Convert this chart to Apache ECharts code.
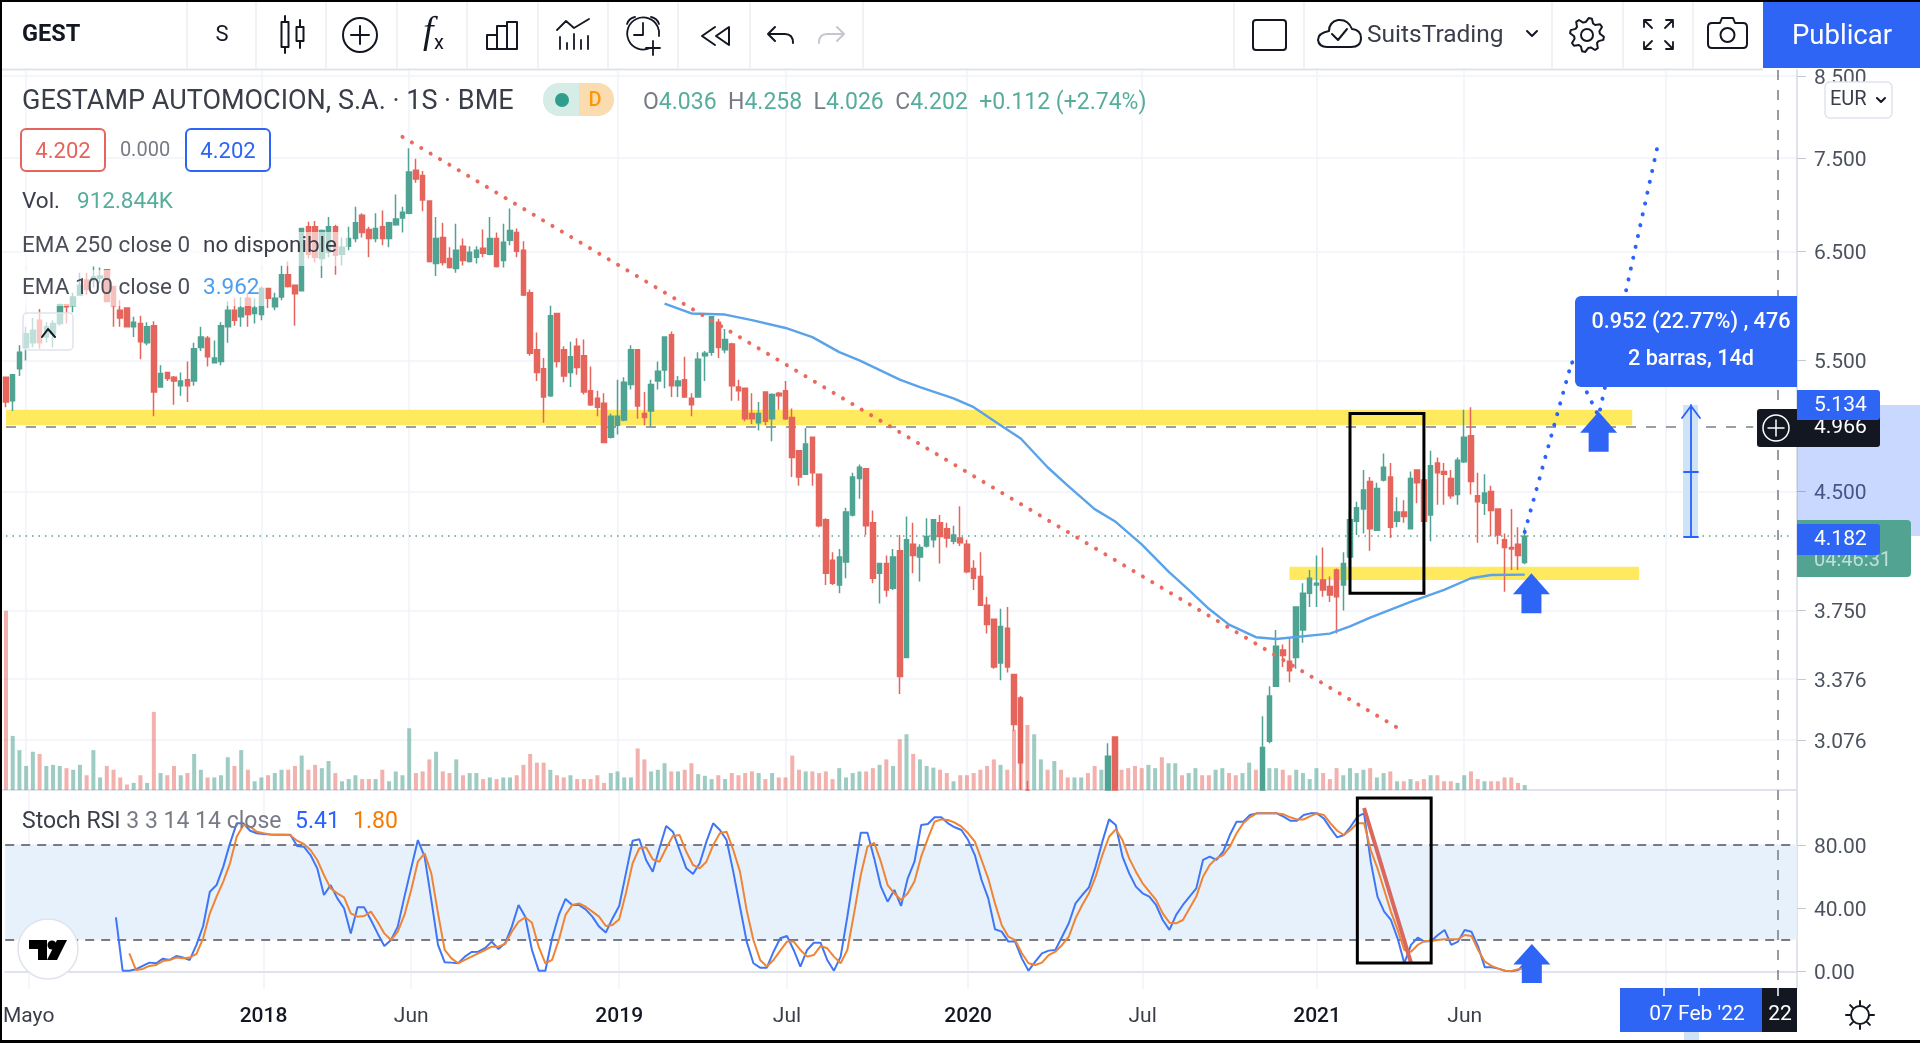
<!DOCTYPE html>
<html lang="es">
<head>
<meta charset="utf-8">
<title>GEST 1S</title>
<script src="https://cdn.jsdelivr.net/npm/echarts@6.0.0/dist/echarts.min.js"></script>
<style>
  html, body { margin: 0; padding: 0; background: #fff; }
  #chart { width: 1920px; height: 1043px; }
</style>
</head>
<body>
<div id="chart"></div>
<script>
// weekly bars. bars 152-186 sit below the pane, those are rough guesses
const open_ = [
  5.36,5.17,5.43,5.61,5.65,5.85,5.70,5.73,5.82,5.99, 5.98,6.08,6.22,6.22,6.24,6.32,6.16,5.94,5.96,5.79,
  5.82,5.65,5.80,5.28,5.40,5.36,5.29,5.34,5.33,5.61, 5.69,5.48,5.49,5.79,5.94,5.88,6.05,5.91,5.90,6.14,
  5.97,6.06,6.27,6.17,6.12,6.75,6.75,6.43,6.49,6.75, 6.47,6.55,6.63,6.87,6.72,6.63,6.75,6.63,6.77,6.84,
  6.89,7.36,7.30,7.02,6.38,6.64,6.43,6.33,6.55,6.40, 6.44,6.53,6.47,6.63,6.41,6.61,6.69,6.51,6.10,5.59,
  5.43,5.21,5.91,5.59,5.40,5.62,5.54,5.25,5.19,5.15, 4.89,4.98,5.02,5.30,5.59,5.07,5.09,5.33,5.42,5.72,
  5.29,5.34,5.19,5.20,5.54,5.57,5.83,5.59,5.64,5.28, 5.27,5.07,5.00,5.24,5.03,5.23,5.25,5.04,4.79,4.62,
  4.89,4.62,4.31,4.05,3.90,4.04,4.34,4.59,4.66,4.29, 3.97,4.03,3.88,4.11,3.49,4.15,4.07,4.14,4.18,4.29,
  4.25,4.17,4.19,4.15,4.00,3.95,3.78,3.70,3.46,3.65, 3.40,3.28,2.80,2.20,2.30,2.60,2.40,2.65,2.50,2.35,
  2.50,2.65,2.50,2.30,2.60,3.09,2.60,2.50,2.40,2.30, 2.20,2.30,2.40,2.30,2.35,2.45,2.35,2.50,2.60,2.50,
  2.45,2.55,2.65,2.55,2.50,2.60,2.70,2.70,3.07,3.34, 3.53,3.47,3.49,3.64,3.85,3.90,3.93,3.89,3.99,3.90,
  4.07,4.30,4.38,4.57,4.24,4.58,4.60,4.30,4.36,4.25, 4.65,4.58,4.34,4.70,4.64,4.59,4.48,4.71,4.90,4.47,
  4.42,4.50,4.38,4.18,4.13,4.15,4.036
];
const close_ = [
  5.16,5.38,5.57,5.73,5.76,5.65,5.79,5.82,5.99,5.97, 6.06,6.17,6.13,6.25,6.26,6.02,5.98,5.87,5.79,5.83,
  5.66,5.79,5.24,5.39,5.35,5.33,5.33,5.29,5.60,5.70, 5.53,5.52,5.80,5.94,5.85,5.96,5.90,5.96,6.14,6.05,
  6.05,6.27,6.16,6.09,6.73,6.47,6.44,6.71,6.75,6.46, 6.54,6.63,6.79,6.69,6.63,6.73,6.63,6.79,6.83,6.90,
  7.34,7.26,7.03,6.40,6.63,6.39,6.34,6.51,6.41,6.49, 6.51,6.48,6.63,6.35,6.59,6.71,6.50,6.08,5.56,5.40,
  5.20,5.89,5.49,5.37,5.53,5.44,5.24,5.14,5.12,4.85, 5.05,5.05,5.32,5.59,5.13,5.04,5.30,5.41,5.70,5.29,
  5.33,5.20,5.14,5.51,5.56,5.88,5.61,5.68,5.29,5.25, 5.03,5.03,5.07,5.01,5.22,5.21,5.03,4.74,4.60,4.84,
  4.63,4.27,3.97,3.91,4.07,4.36,4.60,4.67,4.27,3.94, 4.03,3.87,4.07,3.39,4.18,4.08,4.13,4.20,4.31,4.20,
  4.19,4.21,4.16,3.98,3.94,3.78,3.67,3.44,3.66,3.44, 3.15,2.97,2.50,2.50,2.60,2.40,2.65,2.50,2.35,2.50,
  2.65,2.50,2.30,2.50,3.00,2.60,2.50,2.40,2.30,2.20, 2.30,2.40,2.30,2.35,2.45,2.35,2.50,2.60,2.50,2.45,
  2.55,2.65,2.55,2.50,2.60,2.70,2.65,3.04,3.29,3.55, 3.50,3.42,3.77,3.85,3.94,3.91,3.87,3.84,3.83,4.03,
  4.31,4.39,4.51,4.25,4.52,4.67,4.26,4.36,4.33,4.59, 4.56,4.30,4.68,4.63,4.62,4.47,4.72,4.89,4.57,4.43,
  4.49,4.37,4.21,4.13,4.12,4.08,4.202
];
const high_ = [
  5.36,5.38,5.63,5.79,5.87,5.95,5.83,5.85,6.00,5.99, 6.10,6.29,6.29,6.35,6.34,6.32,6.16,6.03,5.96,5.88,
  5.89,5.83,5.84,5.46,5.40,5.37,5.40,5.49,5.65,5.79, 5.71,5.67,5.83,6.02,6.05,6.06,6.10,6.05,6.16,6.14,
  6.10,6.36,6.40,6.17,6.73,6.80,6.81,6.72,6.85,6.77, 6.64,6.75,6.96,6.89,6.75,6.89,6.92,6.80,7.09,6.96,
  7.61,7.49,7.35,7.02,6.85,6.79,6.54,6.78,6.63,6.55, 6.55,6.72,6.85,6.69,6.78,6.94,6.73,6.60,6.13,5.74,
  5.52,5.98,5.91,5.62,5.66,5.69,5.68,5.45,5.25,5.23, 5.07,5.34,5.36,5.63,5.59,5.24,5.34,5.49,5.70,5.75,
  5.37,5.53,5.23,5.57,5.58,5.88,5.86,5.77,5.65,5.34, 5.27,5.23,5.16,5.24,5.23,5.24,5.33,5.11,4.79,4.96,
  4.89,4.62,4.32,4.10,4.12,4.39,4.63,4.69,4.66,4.37, 4.03,4.08,4.12,4.21,4.33,4.29,4.15,4.32,4.31,4.34,
  4.29,4.27,4.40,4.18,4.05,4.10,3.83,3.70,3.76,3.77, 3.40,3.29,2.89,2.55,2.65,2.65,2.70,2.70,2.55,2.55,
  2.70,2.70,2.55,2.55,3.06,3.09,2.65,2.55,2.45,2.35, 2.35,2.45,2.45,2.40,2.50,2.50,2.55,2.65,2.65,2.55,
  2.60,2.70,2.70,2.60,2.65,2.75,2.75,3.19,3.34,3.64, 3.56,3.60,3.77,3.91,3.99,4.08,4.13,3.95,4.00,4.10,
  4.37,4.43,4.65,4.60,4.56,4.77,4.70,4.46,4.44,4.64, 4.65,4.64,4.79,4.74,4.70,4.65,4.74,5.10,5.12,4.63,
  4.62,4.54,4.38,4.22,4.38,4.26,4.258
];
const low_ = [
  5.12,5.09,5.37,5.50,5.61,5.60,5.65,5.61,5.80,5.82, 5.92,6.08,6.08,6.15,6.19,6.02,5.79,5.79,5.79,5.70,
  5.51,5.63,5.05,5.28,5.33,5.14,5.21,5.16,5.29,5.58, 5.45,5.48,5.46,5.65,5.80,5.79,5.79,5.82,5.85,5.96,
  5.94,6.03,6.15,5.80,6.12,6.43,6.39,6.24,6.44,6.27, 6.36,6.51,6.59,6.64,6.44,6.59,6.56,6.54,6.76,6.69,
  6.88,7.22,6.91,6.39,6.26,6.36,6.33,6.29,6.36,6.39, 6.38,6.44,6.46,6.34,6.34,6.56,6.44,6.07,5.54,5.33,
  5.00,5.20,5.44,5.32,5.28,5.38,5.22,5.13,5.05,4.85, 4.88,4.91,5.01,5.26,5.03,4.98,4.97,5.26,5.27,5.20,
  5.20,5.20,5.05,5.20,5.33,5.54,5.52,5.56,5.17,5.17, 5.01,4.99,4.94,4.98,4.86,5.10,5.02,4.60,4.54,4.62,
  4.54,4.26,3.90,3.90,3.85,3.94,4.33,4.45,4.21,3.91, 3.79,3.83,3.87,3.30,3.49,3.97,3.92,4.13,4.13,4.03,
  4.13,4.15,4.14,3.97,3.87,3.78,3.62,3.43,3.37,3.41, 3.12,2.80,2.40,2.15,2.25,2.35,2.35,2.45,2.30,2.30,
  2.45,2.45,2.25,2.25,2.55,2.50,2.45,2.35,2.25,2.15, 2.15,2.25,2.25,2.25,2.30,2.30,2.30,2.45,2.45,2.40,
  2.40,2.50,2.50,2.45,2.45,2.55,2.60,2.65,3.06,3.34, 3.44,3.36,3.43,3.57,3.77,3.77,3.83,3.80,3.62,3.75,
  4.01,4.21,4.22,4.11,4.24,4.57,4.19,4.26,4.29,4.25, 4.42,4.26,4.17,4.41,4.41,4.45,4.41,4.70,4.48,4.16,
  4.34,4.20,4.15,3.86,3.99,3.99,4.026
];
// volume in millions of shares
const volumeM = [
  32.8,9.9,7.3,4.4,7.0,6.6,4.4,4.6,4.4,4.0, 3.7,4.6,2.7,7.3,2.3,4.4,3.7,2.3,1.0,1.3,
  2.7,1.3,14.3,3.1,2.7,4.4,2.7,3.1,6.6,3.7, 2.3,2.3,2.7,6.0,4.4,7.3,3.7,1.6,2.3,2.7,
  3.1,3.7,3.7,4.4,6.3,3.7,4.6,4.0,5.3,3.1, 1.6,2.0,2.7,2.0,2.0,2.0,3.7,1.6,3.4,2.7,
  11.3,3.1,3.4,5.6,7.0,3.4,3.1,5.6,2.7,3.1, 3.1,2.0,2.3,2.0,2.3,2.3,2.7,4.6,6.6,5.0,
  5.0,3.7,2.7,2.3,2.7,2.0,2.0,2.0,2.7,1.3, 3.1,3.4,2.3,2.3,7.6,5.6,3.4,3.7,4.9,3.4,
  3.4,3.7,4.9,2.9,2.6,2.0,2.7,2.0,3.1,2.7, 3.1,3.4,3.1,2.0,3.1,2.3,2.3,6.3,3.7,3.4,
  3.4,3.1,3.4,2.0,4.0,2.3,3.1,3.4,3.4,4.0, 4.6,5.6,4.4,9.3,10.2,6.6,5.6,4.4,4.1,3.7,
  3.1,1.6,2.7,2.7,3.1,3.7,4.4,5.6,4.6,3.7, 11,12,11.9,10.2,5.6,3.7,5.3,3.7,2.3,2.3,
  2.3,3.1,4.4,3.7,3,2.6,3.7,4,4.4,4, 4.6,4,6,4.9,4.9,2.7,3.1,4,2.7,2.7,
  3.7,4,3.1,2.7,3.1,5,3.7,3.7,4,4, 3.7,2.7,3.7,3.1,2,4,3.1,2,4,2.7,
  4,3.1,3.7,4,2.3,3.1,3.4,1.6,1.6,2, 1.6,2,2.7,2.7,1.6,1.6,1.3,2.7,3.4,2,
  1.6,1.6,1.6,2.3,2.3,1.3,0.913
];
// EMA 100, read every few bars
const emaBars = [98,102,107,111,116,120,124,127,133,136,141,144,148,151,155,158,162,165,169,173,176,179,182,186,189,197,200,203,209,214,218,221,226];
const emaValues = [6.00,5.91,5.90,5.85,5.78,5.70,5.57,5.50,5.34,5.28,5.19,5.12,4.98,4.88,4.67,4.54,4.38,4.30,4.15,3.98,3.87,3.76,3.67,3.60,3.59,3.62,3.66,3.71,3.80,3.87,3.94,3.96,3.962];
// Stoch RSI, K starts on bar 16 and D on bar 18
const stochK = [
  34.2,.4,.4,1.3,3.4,5.5,5.1,8,7.2,9.7,8.7,7.2,16.7,28.7,50.4,54.6,66.3,81,93.7,93.7,89,87.4,87,86.7,86.5,86.5,86.5,
  79.3,78.9,73.6,65.2,48.3,54.6,46.2,39.9,24,40.5,40.5,32.5,24,16,19.8,28.3,47.3,65.2,83.1,72.6,45.2,16.7,5.7,5.5,5.1,
  9.3,12.2,12.4,14.6,18.8,14.1,17.7,28.3,42,34.6,13.5,.4,.4,20.9,35.7,45.8,42,42,39.2,34.6,28.3,
  24.5,33.5,41.4,62,82.7,83.6,70.5,63.1,77.9,92,88.4,76.8,65.2,61.6,68.4,82.1,93.7,89.5,83.1,63.1,40.9,18.8,5.1,2.3,2.3,
  12.4,20.9,22.4,13.5,3,13.5,18.1,18.1,7.2,.4,9.3,34.6,62,87.8,87.8,71.5,53.6,44.1,51.5,41.4,58.9,69.4,92.6,93.3,97.5,97.5,
  93.7,91.2,89.5,83.1,73.6,57.8,46.2,26.6,25.1,18.8,18.8,8.2,.4,6.1,11.4,13.1,13.5,21.9,30.4,43,48.3,53.2,
  66.3,82.1,96.2,92.6,72.6,62,53.6,49.4,47.3,42,32.5,26.2,35.7,42,47.3,52.5,70.5,72.6,70.5,75.7,86.3,94.7,94.7,99,100,100,100,
  100,97.9,95.4,95.4,99,100,100,96.8,90.5,84.8,86.3,91.6,97.9,100,69.4,47.3,37.8,32.5,20.9,5.1,16.7,21.3,18.8,19.2,23,26.2,16.7,18.8,
  26.2,25.1,15.6,2.5,2.5,1.7,.4,0,.8,5.41
];
const stochD = [
  11.4,.8,1.5,3.4,4,6.5,7.2,8.7,8.2,8.7,11,20.9,36.7,47.3,56.8,68.4,85.2,92.6,91.6,88.4,87.4,86.7,86.5,86.5,86.1,
  82.7,80.6,76.8,70.5,61,52.5,49.4,46.8,36.7,34.6,35,37.8,31.4,24,19.8,25.1,35.7,51.5,69.4,74.7,62,36.7,13.5,8.2,5.1,
  7.2,9.3,11.4,13.5,15.6,15.6,17.3,25.1,31.4,34.2,30.8,15.6,5.1,7.2,19.8,35.7,42,43,40.9,37.8,34.6,
  28.7,29.3,32.9,49.4,68.4,77.9,78.5,70.9,69.4,77.9,85.7,86.3,75.7,67.3,65.2,69.4,79.9,87.4,88.4,76.8,63.1,38.6,19.8,7.2,3,
  7.2,13.1,18.8,18.8,13.5,9.3,10.3,16,14.6,9.3,5.1,13.5,36.7,61,78.9,81.4,69.4,54.6,49.4,45.2,49.4,56.8,72.6,84.2,94.7,96.2,
  95.8,94.1,91.6,87.4,82.1,70.5,58.7,43,29.3,21.9,19.8,11.4,5.1,4,5.5,10.3,12.4,16.7,21.9,33.5,42,49.4,
  59.9,73.6,85.2,89.9,83.1,71.5,63.1,55.7,50.4,45.2,36.7,30.8,30.4,32.5,39.9,47.3,59.9,67.3,71.5,73.6,78.9,87.4,93.7,97.5,100,100,100,
  100,99.4,97.5,96.2,96.2,98.3,100,99,93.7,89,86.3,89.5,93.7,93.7,76.8,65.2,51.5,37.8,26.2,13.5,12.4,16.7,19.2,19.2,19.8,20.3,20.3,20.3,
  23,22.4,13.5,6.1,3.4,1.7,.4,.2,1.3,1.80
];
// axis ticks
const priceTicks = [3.076, 3.376, 3.75, 4.5, 5.5, 6.5, 7.5, 8.5];
const stochTicks = [0, 40, 80];
const dateTicks = {
  '2017-05-01': 'Mayo', '2018-01-01': '2018', '2018-06-04': 'Jun', '2019-01-07': '2019', '2019-07-01': 'Jul',
  '2020-01-06': '2020', '2020-07-06': 'Jul', '2021-01-04': '2021', '2021-06-07': 'Jun', '2022-01-03': ''
};
// drawings on the chart: [bar, value]
const downTrend = [[59, 7.745], [207, 3.135]];
const upPath = [[226, 4.23], [233, 5.49], [237, 5.05], [246, 7.72]];
const stochDrop = [[202, 103.4], [209, 5.3]];
const priceArrows = [[227, 3.85], [237, 4.93]];
const stochArrows = [[227, 4.9]];
const supportBands = [[0, 242, 5.10, 4.98], [191, 243, 4.01, 3.93]];
const lastClose = 4.202, crossPrice = 4.966, crossBar = 260;

const FONT = 'Roboto';
const GREEN = '#4fa392', RED = '#e5645b', BLUE = '#2f65f5', INK = '#131722', GREY = '#787b86';
const BAR_COUNT = 267;
const PRICE_MIN = 2.849, PRICE_MAX = 8.58;

// one label per week from the first bar on, axis runs on past the last candle
const categories = [];
for (let i = 0; i < BAR_COUNT; i++) {
  categories.push(new Date(Date.UTC(2017, 3, 10 + i * 7)).toISOString().slice(0, 10));
}
const isDateTick = (idx, val) => val in dateTicks;

// candlestick clipping only drops whole boxes, so cut them at the pane bottom here
const cut = v => Math.max(v, PRICE_MIN);
const candles = open_.map((o, i) => high_[i] < PRICE_MIN
  ? ['-', '-', '-', '-']
  : [cut(o), cut(close_[i]), cut(low_[i]), high_[i]]);
const volumes = volumeM.map((v, i) => ({
  value: v,
  itemStyle: { color: close_[i] >= open_[i] ? 'rgba(79,163,146,.55)' : 'rgba(229,100,91,.5)' }
}));
const ema = emaBars.map((b, i) => [b, emaValues[i]]);
const kLine = Array(16).fill(null).concat(stochK);
const dLine = Array(18).fill(null).concat(stochD);

const chart = echarts.init(document.getElementById('chart'));

const xBase = {
  type: 'category', data: categories, boundaryGap: true,
  axisLine: { lineStyle: { color: '#e0e3eb', width: 2 } },
  axisTick: { show: false, alignWithLabel: true },
  splitLine: { show: true, interval: isDateTick, alignWithLabel: true, lineStyle: { color: '#f0f3fa', width: 1.5 } }
};
// top padding on the rich block nudges the numbers down onto their gridlines
const yLabel = {
  margin: 17,
  rich: { n: { color: '#4c525e', fontFamily: FONT, fontSize: 21, padding: [5, 0, 0, 0] } }
};

// drawing helpers for the toolbar and legends
function T(x, y, text, o) {
  o = o || {};
  return {
    type: 'text', x: x, y: y + 2, z: o.z || 30,
    style: {
      text: text, fill: o.color || INK, fontFamily: o.font || FONT, fontSize: o.size || 21,
      fontWeight: o.weight || 400, fontStyle: o.italic ? 'italic' : 'normal',
      align: o.align || 'left', verticalAlign: 'middle', rich: o.rich
    }
  };
}
function R(x, y, w, h, fill, o) {
  o = o || {};
  return {
    type: 'rect', z: o.z || 30, shape: { x: x, y: y, width: w, height: h, r: o.r || 0 },
    style: { fill: fill, stroke: o.stroke || null, lineWidth: o.lw || 1 }
  };
}
// the graphic component has no free paths, these go in a custom series on top
function P(d, o) {
  o = o || {};
  return {
    type: 'path', shape: { pathData: d },
    style: { fill: o.fill || 'none', stroke: o.fill && !o.stroke ? null : (o.stroke || INK), lineWidth: o.lw || 2, lineCap: 'round', lineJoin: 'round' }
  };
}
function circ(cx, cy, r) {
  return 'M' + (cx - r) + ' ' + cy + 'a' + r + ' ' + r + ' 0 1 0 ' + (2 * r) + ' 0a' + r + ' ' + r + ' 0 1 0 ' + (-2 * r) + ' 0Z';
}
function gear(cx, cy, r1, r2, n) {
  let d = '';
  for (let i = 0; i < n * 4; i++) {
    const a = (i + .5) / (n * 4) * Math.PI * 2;
    const r = (i % 4 < 2) ? r2 : r1;
    d += (i ? 'L' : 'M') + (cx + r * Math.cos(a)).toFixed(1) + ' ' + (cy + r * Math.sin(a)).toFixed(1);
  }
  return d + 'Z';
}
function rays(cx, cy, r1, r2, n) {
  let d = '';
  for (let i = 0; i < n; i++) {
    const a = i / n * Math.PI * 2;
    d += 'M' + (cx + r1 * Math.cos(a)).toFixed(1) + ' ' + (cy + r1 * Math.sin(a)).toFixed(1) +
         'L' + (cx + r2 * Math.cos(a)).toFixed(1) + ' ' + (cy + r2 * Math.sin(a)).toFixed(1);
  }
  return d;
}

const toolbarSeps = [187, 256, 326, 397, 467, 538, 608, 678, 750, 863, 1234, 1304, 1552, 1623, 1693];
const graphics = [
  // text area behind the legend rows lets the candles show through faintly
  R(22, 232, 326, 34, 'rgba(255,255,255,.6)', { z: 20 }),
  R(22, 270, 244, 36, 'rgba(255,255,255,.6)', { z: 20 }),
  R(1797, 405, 123, 131, 'rgba(41,98,255,.25)', { z: 20 }),

  // crosshair
  { type: 'line', z: 21, shape: { x1: 1778, y1: 70, x2: 1778, y2: 988 }, style: { stroke: GREY, lineWidth: 1.5, lineDash: [10, 10] } },

  // toolbar
  R(0, 0, 1920, 69, '#fff', { z: 28 }),
  { type: 'line', z: 29, shape: { x1: 0, y1: 69.5, x2: 1763, y2: 69.5 }, style: { stroke: '#e0e3eb', lineWidth: 2 } },
  ...toolbarSeps.map(x => ({ type: 'line', z: 29, shape: { x1: x, y1: 2, x2: x, y2: 68 }, style: { stroke: '#eceef3', lineWidth: 1.5 } })),
  T(22, 33, 'GEST', { size: 23.5, weight: 700 }),
  T(222, 33, 'S', { size: 22, align: 'center' }),
  P('M285 16V22M285 47V53M281.5 22H288.5V47H281.5ZM300 20V27M300 41V48M296.5 27H303.5V41H296.5Z'),
  P(circ(360, 35, 17) + 'M360 26V44M351 35H369'),
  T(423, 31, 'f', { size: 38, font: 'Liberation Serif', italic: true }),
  T(434, 42, 'x', { size: 20 }),
  P('M487 49V35H497V49M497 49V26H507V49M507 49V22H517V49M487 49H517'),
  P('M557 30L566 21L574 28L589 19M560 37V49M567 43V49M574 34V49M581 40V49M588 36V49', { lw: 1.8 }),
  P('M650 48A16 16 0 1 1 659 36M627 24Q629 18 635 17M651 17Q657 18 659 24M643 23V35H634M653 41V55M646 48H660', { lw: 1.8 }),
  P('M715 27L702 36L715 45M729 27V45L716 36Z'),
  P('M775 27L768 34L775 41M768 34H785Q793 34 793 43'),
  P('M837 27L844 34L837 41M844 34H827Q819 34 819 43', { stroke: '#c5c7ce' }),
  R(1253, 20, 33, 30, 'none', { stroke: INK, lw: 2, r: 3 }),
  P('M1327 47H1351Q1361 47 1361 38Q1361 30 1352 29Q1348 19 1338 20Q1329 22 1329 31Q1318 33 1318 40Q1319 47 1327 47ZM1332 34L1338 40L1347 29'),
  T(1367, 34, 'SuitsTrading', { size: 24.5, color: '#3a3e49' }),
  P('M1527 31L1532 36L1537 31'),
  P(gear(1587, 35, 13, 17, 8) + circ(1587, 35, 6)),
  P('M1644 27V20H1651M1644 20L1652 28M1666 20H1673V27M1673 20L1665 28M1644 42V49H1651M1644 49L1652 41M1673 42V49H1666M1673 49L1665 41', { lw: 1.8 }),
  P('M1712 23H1720L1722 18H1733L1735 23H1743Q1747 23 1747 27V44Q1747 48 1743 48H1712Q1708 48 1708 44V27Q1708 23 1712 23Z' + circ(1727.5, 35, 7)),
  R(1763, 2, 157, 66, BLUE),
  T(1842, 35, 'Publicar', { size: 27.5, color: '#fff', align: 'center' }),

  // title and OHLC
  T(22, 100, 'GESTAMP AUTOMOCION, S.A. · 1S · BME', { size: 27, color: '#3a3e49' }),
  R(543, 83, 36, 33, '#d6ece7', { r: [16, 0, 0, 16] }),
  R(579, 83, 35, 33, '#fbdcb0', { r: [0, 16, 16, 0] }),
  P(circ(562, 100, 7), { fill: '#2f9f8c' }),
  T(595, 99, 'D', { size: 20, color: '#ff9800', align: 'center', weight: 500 }),
  T(643, 101, '{l|O}{v|4.036}  {l|H}{v|4.258}  {l|L}{v|4.026}  {l|C}{v|4.202}  {v|+0.112 (+2.74%)}', {
    size: 23,
    rich: {
      l: { fill: GREY, fontSize: 23, fontFamily: FONT },
      v: { fill: '#57ad9c', fontSize: 23, fontFamily: FONT }
    }
  }),

  // price boxes and indicator legends
  R(21, 129, 84, 42, '#fff', { stroke: RED, lw: 2, r: 5 }),
  T(63, 150, '4.202', { size: 22, color: RED, align: 'center' }),
  T(145, 149, '0.000', { size: 20, color: GREY, align: 'center' }),
  R(186, 129, 84, 42, '#fff', { stroke: BLUE, lw: 2, r: 5 }),
  T(228, 150, '4.202', { size: 22, color: BLUE, align: 'center' }),
  T(22, 200, 'Vol.', { size: 22.5, color: '#3a3e49' }),
  T(77, 200, '912.844K', { size: 22.5, color: '#57ad9c' }),
  T(22, 244, 'EMA 250 close 0', { size: 22.5, color: '#4a4e59' }),
  T(203, 244, 'no disponible', { size: 22.5, color: '#3a3e49' }),
  T(22, 286, 'EMA 100 close 0', { size: 22.5, color: '#4a4e59' }),
  T(203, 286, '3.962', { size: 22.5, color: '#4c9ef0' }),
  R(23, 313, 50, 37, 'rgba(255,255,255,.65)', { stroke: '#e0e3eb', lw: 1.5, r: 4, z: 22 }),
  P('M42 337L48 329L55 337'),
  R(1825, 82, 67, 36, '#fff', { stroke: '#e0e3eb', lw: 1.5, r: 5 }),
  T(1830, 98, 'EUR', { size: 20, color: '#3a3e49' }),
  P('M1877 98L1881 102L1885 98'),

  // measure tool
  R(1683, 405, 15, 132, '#cfe3f7', { z: 22 }),
  P('M1691 405V537M1684 537H1698M1684 472H1698M1682 418L1691 406L1700 418', { stroke: '#2962ff', lw: 1.8 }),
  R(1575, 296, 222, 91, BLUE, { r: [6, 0, 0, 6] }),
  T(1691, 321, '0.952 (22.77%) , 476', { size: 21.6, color: '#fff', align: 'center', weight: 500 }),
  T(1691, 358, '2 barras, 14d', { size: 21.6, color: '#fff', align: 'center', weight: 500 }),

  // axis labels on the right
  R(1797, 520, 114, 57, '#53a392', { r: [0, 4, 4, 0] }),
  T(1814, 559, '04:46:31', { size: 20, color: '#bfe0d9' }),
  R(1757, 409, 123, 38, INK, { r: 3 }),
  T(1814, 426, '4.966', { size: 21, color: '#fff' }),
  R(1797, 390, 83, 30, BLUE, { r: [0, 3, 3, 0] }),
  T(1814, 404, '5.134', { size: 21, color: '#fff' }),
  R(1797, 524, 83, 31, BLUE, { r: [0, 3, 3, 0] }),
  T(1814, 538, '4.182', { size: 21, color: '#fff' }),

  // stoch legend
  T(22, 820, '{a|Stoch RSI} {b|3 3 14 14 close}', {
    size: 23,
    rich: {
      a: { fill: '#3a3e49', fontSize: 23, fontFamily: FONT },
      b: { fill: GREY, fontSize: 23, fontFamily: FONT }
    }
  }),
  T(295, 820, '5.41', { size: 23, color: '#2962ff' }),
  T(353, 820, '1.80', { size: 23, color: '#f57c00' }),

  // time label at the crosshair
  R(1620, 988, 142, 44, BLUE),
  R(1762, 988, 35, 44, INK),
  { type: 'line', z: 31, shape: { x1: 1664, y1: 988, x2: 1664, y2: 996 }, style: { stroke: '#fff', lineWidth: 1.5 } },
  { type: 'line', z: 31, shape: { x1: 1699, y1: 988, x2: 1699, y2: 996 }, style: { stroke: '#fff', lineWidth: 1.5 } },
  { type: 'line', z: 31, shape: { x1: 1778, y1: 988, x2: 1778, y2: 996 }, style: { stroke: '#fff', lineWidth: 1.5 } },
  T(1697, 1013, '07 Feb \'22', { size: 21, color: '#fff', align: 'center' }),
  T(1780, 1013, '22', { size: 21, color: '#fff', align: 'center' }),
  R(1684, 1032, 15, 8, '#cfe3f7'),

  // black frame around the screenshot
  R(0, 0, 1920, 2, '#000', { z: 40 }),
  R(0, 0, 2, 1043, '#000', { z: 40 }),
  R(0, 1040, 1920, 3, '#000', { z: 40 })
];
const iconEls = graphics.filter(g => g.type === 'path').concat([
  P(circ(1776, 428, 13) + 'M1776 420V436M1768 428H1784', { stroke: '#fff', lw: 1.5 }),
  P(circ(1860, 1015, 9) + rays(1860, 1015, 10, 14, 8)),
  // logo
  P(circ(48, 949, 30), { fill: '#fff', stroke: '#e0e3eb', lw: 1.5 }),
  P('M29 940H47V960H38V949H29Z', { fill: '#000' }),
  P(circ(52, 945, 4.5), { fill: '#000' }),
  P('M67 940L57 960H47L57 940Z', { fill: '#000' })
]);
const shapeEls = graphics.filter(g => g.type !== 'path');

const arrowPath = 'path://M18.5 0L37 21H28.5V40H8.5V21H0Z';

chart.setOption({
  animation: false,
  backgroundColor: '#fff',
  grid: [
    { left: 2.64, width: 1794.24, top: 70, height: 720 },
    { left: 2.64, width: 1794.24, top: 790, height: 199 }
  ],
  xAxis: [
    Object.assign({}, xBase, { gridIndex: 0, axisLabel: { show: false } }),
    Object.assign({}, xBase, {
      gridIndex: 1,
      axisLabel: {
        show: true, interval: isDateTick, margin: 17,
        color: '#3a3e49', fontFamily: FONT, fontSize: 21,
        formatter: v => { const t = dateTicks[v]; return /^\d+$/.test(t) ? '{y|' + t + '}' : t; },
        rich: { y: { fontFamily: FONT, fontSize: 21, fontWeight: 500, color: INK } }
      }
    })
  ],
  yAxis: [
    {
      type: 'log', logBase: Math.E, gridIndex: 0, position: 'right', min: PRICE_MIN, max: PRICE_MAX,
      axisLine: { show: true, lineStyle: { color: '#e0e3eb', width: 2 } },
      axisTick: { show: true, length: 9, customValues: priceTicks, lineStyle: { color: '#c5c8d0' } },
      axisLabel: { customValues: priceTicks, formatter: v => '{n|' + (+v).toFixed(3) + '}', ...yLabel },
      splitLine: { show: true, lineStyle: { color: '#f0f3fa', width: 1.5 } }
    },
    { type: 'value', gridIndex: 0, min: 0, max: 131.76, show: false, splitLine: { show: false } },
    {
      type: 'value', gridIndex: 1, position: 'right', min: -11.2, max: 114.8,
      axisLine: { show: true, lineStyle: { color: '#e0e3eb', width: 2 } },
      axisTick: { show: true, length: 9, customValues: stochTicks, lineStyle: { color: '#c5c8d0' } },
      axisLabel: { customValues: stochTicks, formatter: v => '{n|' + (+v).toFixed(2) + '}', ...yLabel },
      splitLine: { show: true, lineStyle: { color: '#f0f3fa', width: 1.5 } }
    }
  ],
  series: [
    {
      name: 'bands', type: 'line', xAxisIndex: 0, yAxisIndex: 0, data: [], silent: true,
      markArea: {
        silent: true, z: 1,
        itemStyle: { color: '#ffe95f' },
        data: supportBands.map(b => [{ coord: [b[0], b[2]] }, { coord: [b[1], b[3]] }])
      }
    },
    {
      name: 'Vol', type: 'bar', xAxisIndex: 0, yAxisIndex: 1, data: volumes, barWidth: 4, z: 2, silent: true
    },
    {
      name: 'GEST', type: 'candlestick', xAxisIndex: 0, yAxisIndex: 0, data: candles, barWidth: 5, z: 3,
      itemStyle: { color: GREEN, color0: RED, borderColor: GREEN, borderColor0: RED, borderWidth: 1.5 }
    },
    {
      name: 'EMA 100', type: 'line', xAxisIndex: 0, yAxisIndex: 0, data: ema, showSymbol: false, z: 4,
      lineStyle: { color: '#5aa3ea', width: 2.4 }
    },
    {
      name: 'levels', type: 'line', xAxisIndex: 0, yAxisIndex: 0, data: [], silent: true,
      markLine: {
        silent: true, symbol: 'none', label: { show: false }, z: 3,
        data: [
          [{ coord: [0, crossPrice], lineStyle: { color: '#9b9ea8', width: 2, type: [10, 10] } }, { coord: [crossBar, crossPrice] }],
          [{ coord: [0, lastClose], lineStyle: { color: '#53a392', width: 1.5, type: [1.5, 5] } }, { coord: [266, lastClose] }]
        ]
      }
    },
    {
      name: 'trend', type: 'line', xAxisIndex: 0, yAxisIndex: 0, data: downTrend, showSymbol: false, z: 5,
      lineStyle: { color: '#ea6a5e', width: 4, type: [0.1, 10.8], cap: 'round' }
    },
    {
      name: 'path', type: 'line', xAxisIndex: 0, yAxisIndex: 0, data: upPath, showSymbol: false, z: 5,
      lineStyle: { color: '#2962ff', width: 4, type: [0.1, 11], cap: 'round' }
    },
    {
      name: 'boxTop', type: 'line', xAxisIndex: 0, yAxisIndex: 0, data: [], silent: true,
      markArea: {
        silent: true, z: 6,
        itemStyle: { color: 'transparent', borderColor: '#000', borderWidth: 3 },
        data: [[{ coord: [200, 5.07] }, { coord: [211, 3.85] }]]
      }
    },
    {
      name: 'arrows', type: 'scatter', xAxisIndex: 0, yAxisIndex: 0, data: priceArrows, z: 7,
      symbol: arrowPath, symbolSize: [37, 40], itemStyle: { color: BLUE, opacity: 1 }
    },
    {
      name: 'stochBand', type: 'line', xAxisIndex: 1, yAxisIndex: 2, data: [], silent: true,
      markArea: {
        silent: true, z: 1,
        itemStyle: { color: '#e6f1fb' },
        data: [[{ yAxis: 80 }, { yAxis: 20 }]]
      },
      markLine: {
        silent: true, symbol: 'none', label: { show: false }, z: 2,
        lineStyle: { color: GREY, width: 1.8, type: [9, 7] },
        data: [{ yAxis: 80 }, { yAxis: 20 }]
      }
    },
    {
      name: 'K', type: 'line', xAxisIndex: 1, yAxisIndex: 2, data: kLine, showSymbol: false, z: 3,
      lineStyle: { color: '#3f76f5', width: 2 }
    },
    {
      name: 'D', type: 'line', xAxisIndex: 1, yAxisIndex: 2, data: dLine, showSymbol: false, z: 4,
      lineStyle: { color: '#ef8436', width: 2 }
    },
    {
      name: 'drop', type: 'line', xAxisIndex: 1, yAxisIndex: 2, data: stochDrop, showSymbol: false, z: 5,
      lineStyle: { color: '#d9695f', width: 4 }
    },
    {
      name: 'boxBottom', type: 'line', xAxisIndex: 1, yAxisIndex: 2, data: [], silent: true,
      markArea: {
        silent: true, z: 6,
        itemStyle: { color: 'transparent', borderColor: '#000', borderWidth: 3 },
        data: [[{ coord: [201, 109.8] }, { coord: [212, 5.3] }]]
      }
    },
    {
      name: 'arrow', type: 'scatter', xAxisIndex: 1, yAxisIndex: 2, data: stochArrows, z: 7,
      symbol: arrowPath, symbolSize: [37, 39], itemStyle: { color: BLUE, opacity: 1 }
    },
    {
      name: 'icons', type: 'custom', coordinateSystem: 'none', data: [0], z: 31, silent: true,
      renderItem: () => ({ type: 'group', children: iconEls })
    }
  ],
  graphic: { elements: shapeEls }
});
</script>
</body>
</html>
